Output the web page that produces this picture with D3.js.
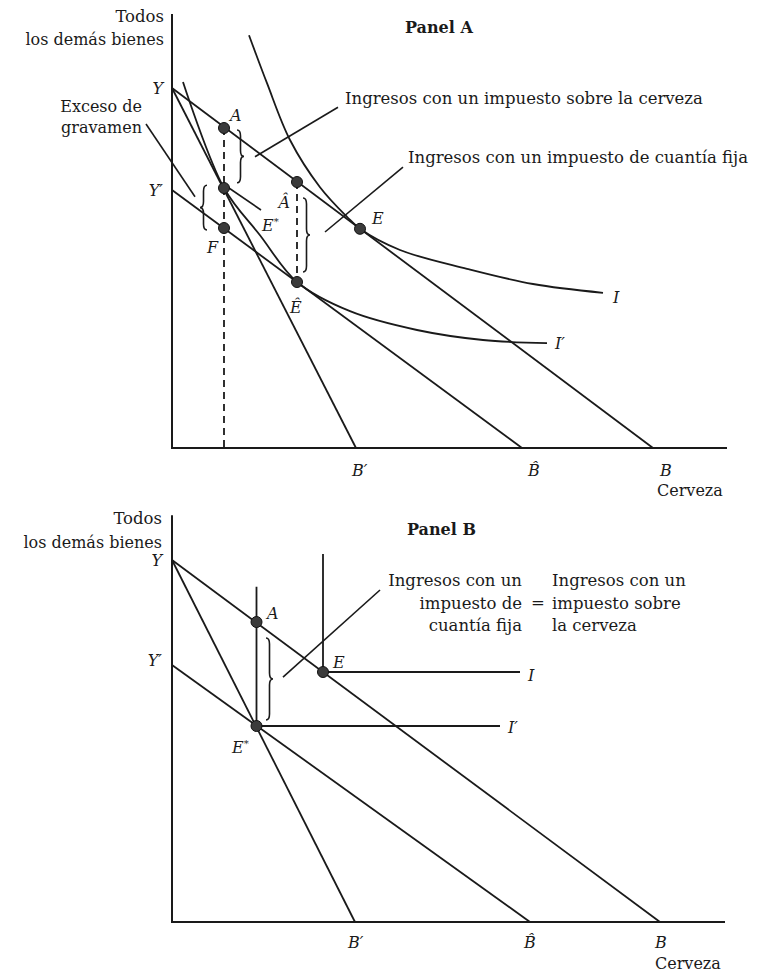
<!DOCTYPE html>
<html>
<head>
<meta charset="utf-8">
<script src="https://cdn.jsdelivr.net/npm/d3@7"></script>
<style>
  body { margin: 0; background: #fff; }
  text { font-family: "DejaVu Serif", "Liberation Serif", serif; fill: #1a1a1a; }
</style>
</head>
<body>
<svg id="chart" width="769" height="972"></svg>
<script>
// ---- Panel A data (units of beer / other goods) ----
const budgetA = [
  [[0, 90], [96.2, 0]],    // Y -> B
  [[0, 90], [36.8, 0]],    // Y -> B'
  [[0, 64.5], [70, 0]]     // Y' -> B^
];
const curveIA = [[15.4, 103.2], [19, 91.2], [23.6, 77], [29.6, 65.2], [35, 57.8], [37.6, 54.8],
  [45.6, 49.5], [59, 44.8], [72.2, 41], [86.2, 38.8]];
const curveI2A = [[2.2, 91.5], [10.4, 65], [17.6, 53.2], [25, 41.5], [35.6, 34.2],
  [49, 29.5], [62.2, 27], [75, 26.2]];
const pointNamesA = ["A", "E*", "F", "Â", "Ê", "E"];
const pointXA = [10.4, 10.4, 10.4, 25, 25, 37.6];
const pointYA = [80, 65, 55, 66.5, 41.5, 54.8];
const dashedA = [[[10.4, 80], [10.4, 0]], [[25, 66.5], [25, 41.5]]];
const bracesA = [[13, 79.5, 66.3, 1], [7, 65.7, 54.5, -1], [26.2, 62.5, 44, 1]]; // x, y1, y2, side
const leadersA = [
  [[33.2, 85.2], [16.6, 72.8]],
  [[46.2, 70.2], [30.6, 54]],
  [[-5.2, 81], [4.6, 62.8]],
  [[10.8, 65.5], [17.8, 59.5]]
];

// ---- Panel B data ----
const budgetB = [
  [[0, 90.5], [97.6, 0]],  // Y -> B
  [[0, 90.5], [36.6, 0]],  // Y -> B'
  [[0, 64.25], [71.6, 0]]  // Y' -> B^
];
const curveIB = [[30.2, 92], [30.2, 62.5], [69.6, 62.5]];
const curveI2B = [[16.9, 83.8], [16.9, 49], [65.6, 49]];
const pointNamesB = ["A", "E", "E*"];
const pointXB = [16.9, 30.2, 16.9];
const pointYB = [75, 62.5, 49];
const bracesB = [[18.8, 71, 50.5, 1]];
const leadersB = [[[22.2, 61.2], [41.6, 83]]];

const svg = d3.select("#chart");
const ink = "#1a1a1a";

function bracePath(x, y1, y2, side) {
  const w = 7 * side, ym = (y1 + y2) / 2, q = Math.min(6, Math.abs(y2 - y1) / 5);
  const s = y2 > y1 ? 1 : -1;
  return `M${x},${y1} Q${x + w / 2},${y1} ${x + w / 2},${y1 + s * q}` +
    ` L${x + w / 2},${ym - s * q} Q${x + w / 2},${ym} ${x + w},${ym}` +
    ` Q${x + w / 2},${ym} ${x + w / 2},${ym + s * q} L${x + w / 2},${y2 - s * q}` +
    ` Q${x + w / 2},${y2} ${x},${y2}`;
}

function italicLabel(g, x, y, txt, anchor) {
  const t = g.append("text").attr("x", x).attr("y", y)
    .attr("text-anchor", anchor || "start")
    .style("font-style", "italic").style("font-size", "16px");
  const star = txt.endsWith("*");
  t.append("tspan").text(star ? txt.slice(0, -1) : txt);
  if (star) t.append("tspan").attr("dy", -6).style("font-size", "10px").text("*");
  return t;
}

function drawPanel(cfg) {
  const x = d3.scaleLinear().domain([0, 100]).range([172, 672]);
  const y = d3.scaleLinear().domain([0, 100]).range(cfg.yRange);
  const g = svg.append("g");
  const line = d3.line().x(d => x(d[0])).y(d => y(d[1]));

  // axes
  g.append("path").attr("d", line([[0, cfg.yTop], [0, 0], [cfg.xEnd, 0]]))
    .attr("fill", "none").attr("stroke", ink).attr("stroke-width", 2);

  // budget lines
  g.selectAll(".budget").data(cfg.budget).join("path")
    .attr("d", line).attr("fill", "none").attr("stroke", ink).attr("stroke-width", 1.8);

  // indifference curves
  const curveLine = d3.line().x(d => x(d[0])).y(d => y(d[1])).curve(cfg.curveType);
  g.selectAll(".indiff").data(cfg.curves).join("path")
    .attr("d", curveLine)
    .attr("fill", "none").attr("stroke", ink).attr("stroke-width", 1.8);

  // dashed guides
  g.selectAll(".dash").data(cfg.dashed || []).join("path")
    .attr("d", line).attr("fill", "none").attr("stroke", ink)
    .attr("stroke-width", 1.8).attr("stroke-dasharray", "7,5");

  // leader lines
  g.selectAll(".lead").data(cfg.leaders).join("path")
    .attr("d", line).attr("fill", "none").attr("stroke", ink).attr("stroke-width", 1.6);

  // braces
  g.selectAll(".brace").data(cfg.braces).join("path")
    .attr("d", d => bracePath(x(d[0]), y(d[1]), y(d[2]), d[3]))
    .attr("fill", "none").attr("stroke", ink).attr("stroke-width", 1.6);

  // points
  g.selectAll(".pt").data(cfg.names).join("circle")
    .attr("cx", (d, i) => x(cfg.px[i])).attr("cy", (d, i) => y(cfg.py[i]))
    .attr("r", 5.5).attr("fill", "#3b3b3b").attr("stroke", "#111").attr("stroke-width", 1);

  // labels
  cfg.labels.forEach(l => italicLabel(g, x(l[1]), y(l[2]), l[0], l[3]));
  return { g, x, y };
}

drawPanel({
  yRange: [448, 48], yTop: 108.5, xEnd: 111,
  budget: budgetA, curves: [curveIA, curveI2A], curveType: d3.curveCatmullRom.alpha(0.5),
  dashed: dashedA, leaders: leadersA, braces: bracesA,
  names: pointNamesA, px: pointXA, py: pointYA,
  labels: [["Y", -1.8, 88.5, "end"], ["Y′", -1.8, 63, "end"], ["A", 11.6, 81.7],
    ["Â", 23.6, 60, "end"], ["E*", 18, 54.2], ["F", 7, 48.7], ["Ê", 23.6, 33.7],
    ["E", 40, 56], ["I", 88.2, 36.2], ["I′", 76.6, 24.7],
    ["B′", 36, -7], ["B̂", 72.4, -7, "middle"], ["B", 97.6, -7]]
});

drawPanel({
  yRange: [922, 522], yTop: 101.7, xEnd: 110.6,
  budget: budgetB, curves: [curveIB, curveI2B], curveType: d3.curveLinear,
  dashed: [], leaders: leadersB, braces: bracesB,
  names: pointNamesB, px: pointXB, py: pointYB,
  labels: [["Y", -2, 89, "end"], ["Y′", -2, 64, "end"], ["A", 19, 75.7],
    ["E", 32.2, 63.5], ["E*", 12, 42.2], ["I", 71.2, 60.2], ["I′", 67.2, 47.2],
    ["B′", 35.2, -6.5], ["B̂", 71.6, -6.5, "middle"], ["B", 96.6, -6.5]]
});

// plain text annotations
function txt(x, y, s, opts) {
  opts = opts || {};
  return svg.append("text").attr("x", x).attr("y", y).text(s)
    .attr("text-anchor", opts.anchor || "start")
    .style("font-size", (opts.size || 16.5) + "px")
    .style("font-weight", opts.bold ? "bold" : "normal");
}

txt(164, 22, "Todos", { anchor: "end" });
txt(164, 45, "los demás bienes", { anchor: "end", size: 16 });
txt(405, 33, "Panel A", { bold: true, size: 16 });
txt(142, 112, "Exceso de", { anchor: "end", size: 16 });
txt(142, 133, "gravamen", { anchor: "end", size: 16 });
txt(345, 104, "Ingresos con un impuesto sobre la cerveza");
txt(408, 163, "Ingresos con un impuesto de cuantía fija");
txt(657, 496, "Cerveza", { size: 16 });

txt(162, 524, "Todos", { anchor: "end" });
txt(162, 548, "los demás bienes", { anchor: "end", size: 16 });
txt(407, 535, "Panel B", { bold: true, size: 16 });
txt(522, 586, "Ingresos con un", { anchor: "end" });
txt(522, 609, "impuesto de", { anchor: "end" });
txt(522, 631, "cuantía fija", { anchor: "end" });
txt(538, 608, "=", { anchor: "middle" });
txt(552, 586, "Ingresos con un");
txt(552, 609, "impuesto sobre");
txt(552, 631, "la cerveza");
txt(655, 969, "Cerveza", { size: 16 });
</script>
</body>
</html>
